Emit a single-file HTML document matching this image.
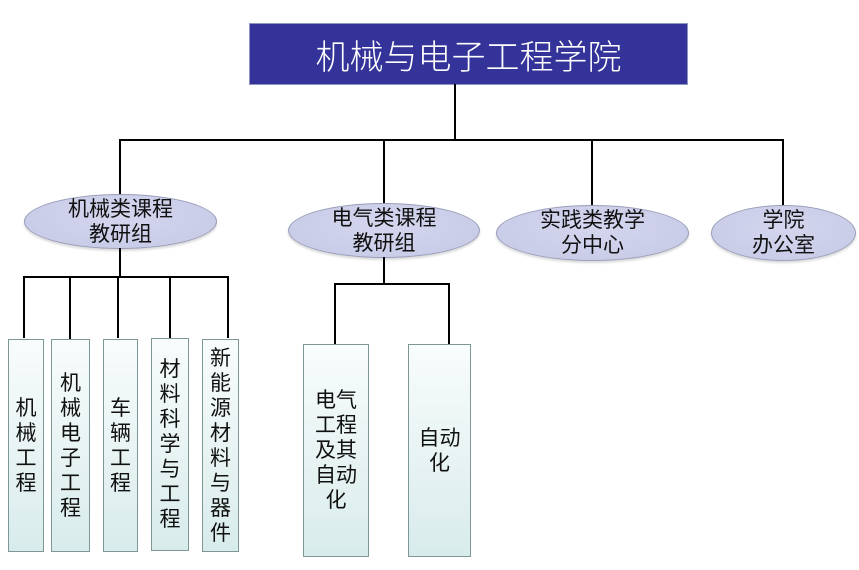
<!DOCTYPE html>
<html><head><meta charset="utf-8"><style>
body{margin:0;width:859px;height:570px;background:#fff;position:relative;overflow:hidden;font-family:"Liberation Sans","Noto Sans CJK SC",sans-serif;}
.l{position:absolute;background:#000;}
.top{position:absolute;left:249px;top:23px;width:437px;height:60px;background:#333399;border:1px solid #8f94c0;color:#fff;font-size:34px;font-weight:300;display:flex;align-items:center;justify-content:center;}
.e{position:absolute;border-radius:50%;background:radial-gradient(ellipse at 50% 40%,#d4d6ee,#c6c9e6);border:1px solid #9a9db8;box-shadow:0 2px 2px rgba(0,0,0,.15);display:flex;align-items:center;justify-content:center;text-align:center;font-size:21px;line-height:25px;color:#111;}
.b{position:absolute;border:1px solid #7d9696;background:linear-gradient(to bottom,#f8fcfc,#e6f2f2 60%,#d8ebeb);display:flex;align-items:center;justify-content:center;text-align:center;font-size:21px;line-height:25px;color:#111;}
</style></head><body>
<div class="top">机械与电子工程学院</div>
<div class="l" style="left:454px;top:84px;width:2px;height:57px"></div>
<div class="l" style="left:119px;top:139px;width:665px;height:2px"></div>
<div class="l" style="left:119px;top:139px;width:2px;height:56px"></div>
<div class="l" style="left:383px;top:139px;width:2px;height:65px"></div>
<div class="l" style="left:591px;top:139px;width:2px;height:67px"></div>
<div class="l" style="left:782px;top:139px;width:2px;height:67px"></div>

<div class="e" style="left:24px;top:194px;width:191px;height:53px">机械类课程<br>教研组</div>
<div class="e" style="left:288px;top:203px;width:190px;height:53px">电气类课程<br>教研组</div>
<div class="e" style="left:496px;top:205px;width:191px;height:54px">实践类教学<br>分中心</div>
<div class="e" style="left:711px;top:205px;width:143px;height:54px">学院<br>办公室</div>

<div class="l" style="left:119px;top:248px;width:2px;height:30px"></div>
<div class="l" style="left:23px;top:276px;width:206px;height:2px"></div>
<div class="l" style="left:23px;top:276px;width:2px;height:62px"></div>
<div class="l" style="left:69px;top:278px;width:2px;height:61px"></div>
<div class="l" style="left:117px;top:276px;width:2px;height:62px"></div>
<div class="l" style="left:169px;top:278px;width:2px;height:60px"></div>
<div class="l" style="left:227px;top:276px;width:2px;height:62px"></div>

<div class="l" style="left:383px;top:257px;width:2px;height:28px"></div>
<div class="l" style="left:334px;top:283px;width:116px;height:2px"></div>
<div class="l" style="left:334px;top:283px;width:2px;height:61px"></div>
<div class="l" style="left:448px;top:283px;width:2px;height:61px"></div>

<div class="b" style="left:8px;top:339px;width:34px;height:211px">机<br>械<br>工<br>程</div>
<div class="b" style="left:51px;top:339px;width:37px;height:211px">机<br>械<br>电<br>子<br>工<br>程</div>
<div class="b" style="left:103px;top:339px;width:33px;height:211px">车<br>辆<br>工<br>程</div>
<div class="b" style="left:151px;top:338px;width:36px;height:211px">材<br>料<br>科<br>学<br>与<br>工<br>程</div>
<div class="b" style="left:202px;top:339px;width:35px;height:211px">新<br>能<br>源<br>材<br>料<br>与<br>器<br>件</div>
<div class="b" style="left:303px;top:344px;width:64px;height:211px">电气<br>工程<br>及其<br>自动<br>化</div>
<div class="b" style="left:408px;top:344px;width:61px;height:211px">自动<br>化</div>
</body></html>
